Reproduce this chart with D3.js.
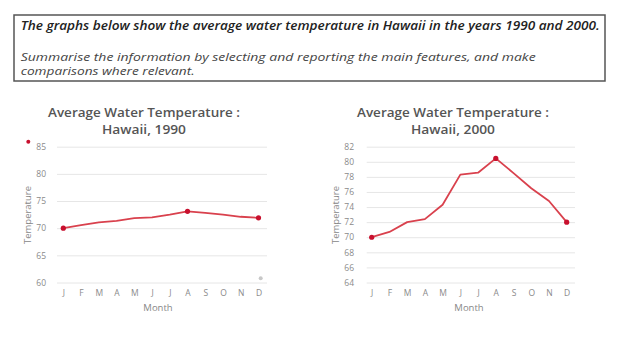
<!DOCTYPE html>
<html><head><meta charset="utf-8">
<script src="https://cdn.jsdelivr.net/npm/d3@7"></script>
<style>body{margin:0;background:#fff;} svg{display:block;font-family:"Open Sans",Lato,sans-serif;}</style>
</head><body>
<svg id="c" width="640" height="359"></svg>
<script>
const months = ["J","F","M","A","M","J","J","A","S","O","N","D"];
const temps1990 = [70, 70.55, 71.05, 71.35, 71.85, 72.0, 72.5, 73.1, 72.8, 72.5, 72.1, 71.9];
const temps2000 = [70, 70.7, 72.0, 72.4, 74.3, 78.3, 78.55, 80.45, 78.5, 76.5, 74.8, 72.0];
const ticks1990 = [60, 65, 70, 75, 80, 85];
const ticks2000 = [64, 66, 68, 70, 72, 74, 76, 78, 80, 82];
const markerIdx = [0, 7, 11];
const header = [
  "The graphs below show the average water temperature in Hawaii in the years 1990 and 2000.",
  "Summarise the information by selecting and reporting the main features, and make",
  "comparisons where relevant."
];
const titles = [["Average Water Temperature :", "Hawaii, 1990"], ["Average Water Temperature :", "Hawaii, 2000"]];

const svg = d3.select("#c");
// header box
svg.append("rect").attr("x",14).attr("y",15).attr("width",591).attr("height",66)
  .attr("fill","#fff").attr("stroke","#555").attr("stroke-width",1.5);
const hdr = [{y:29.5, w:579, fs:12.5, bold:true},{y:61, w:515, fs:11.5},{y:75, w:174, fs:11.5}];
header.forEach((t,i)=>{
  svg.append("text").attr("x",20.7).attr("y",hdr[i].y).text(t)
    .attr("font-size",hdr[i].fs).attr("font-style","italic")
    .attr("font-weight",hdr[i].bold?600:400).attr("fill", hdr[i].bold?"#222":"#444")
    .attr("textLength",hdr[i].w).attr("lengthAdjust","spacingAndGlyphs");
});

const LINE = "#d9414d", MARK = "#c8102e";
function chart(cfg){
  const y = d3.scaleLinear().domain(cfg.domain).range([282.5,146.7]);
  const x = d3.scalePoint().domain(d3.range(12)).range([cfg.x0, cfg.x1]);
  const g = svg.append("g");
  // gridlines
  g.append("g").attr("transform",`translate(${cfg.g0},0)`)
    .call(d3.axisLeft(y).tickValues(cfg.ticks).tickSize(-(cfg.g1-cfg.g0)).tickFormat(""))
    .call(s=>s.select(".domain").remove())
    .call(s=>s.selectAll("line").attr("stroke","#e6e6e6").attr("stroke-width",1));
  // y tick labels
  g.append("g").attr("transform",`translate(${cfg.labX},0)`)
    .call(d3.axisLeft(y).tickValues(cfg.ticks).tickSize(0).tickPadding(0))
    .call(s=>s.select(".domain").remove())
    .call(s=>s.selectAll("text").attr("fill","#8a8a8a").attr("font-size",8.5).attr("font-family","Open Sans, sans-serif"));
  // x labels
  g.append("g").attr("transform","translate(0,290)")
    .call(d3.axisBottom(x).tickSize(0).tickPadding(0).tickFormat(i=>months[i]))
    .call(s=>s.select(".domain").remove())
    .call(s=>s.selectAll("text").attr("fill","#8a8a8a").attr("font-size",8.5).attr("font-family","Open Sans, sans-serif"));
  // axis titles
  g.append("text").attr("x",cfg.monthX).attr("y",310.5).attr("text-anchor","middle")
    .attr("font-size",9.5).attr("fill","#888").text("Month");
  g.append("text").attr("transform",`translate(${cfg.tempX},215) rotate(-90)`).attr("text-anchor","middle")
    .attr("dy","0.35em").attr("font-size",9.5).attr("fill","#888").text("Temperature");
  // titles
  cfg.title.forEach((t,i)=>{
    g.append("text").attr("x",cfg.titleX).attr("y",i?133.5:117).attr("text-anchor","middle")
      .attr("font-size",12).attr("font-weight",600).attr("fill","#555").text(t)
      .attr("textLength", i? 84:192).attr("lengthAdjust","spacingAndGlyphs");
  });
  // line
  g.append("path").datum(cfg.data)
    .attr("d",d3.line().x((d,i)=>x(i)).y(d=>y(d)))
    .attr("fill","none").attr("stroke",LINE).attr("stroke-width",1.8).attr("stroke-linejoin","round");
  g.selectAll("circle.m").data(markerIdx).join("circle").attr("class","m")
    .attr("cx",i=>x(i)).attr("cy",i=>y(cfg.data[i])).attr("r",2.6).attr("fill",MARK);
  return g;
}
const g1 = chart({domain:[60,85], ticks:ticks1990, x0:63.3, x1:258.5, g0:57, g1:267, labX:46,
  data:temps1990, monthX:158, tempX:28, titleX:144, title:titles[0]});
g1.append("circle").attr("cx",28.3).attr("cy",141.7).attr("r",2).attr("fill",MARK);
g1.append("circle").attr("cx",260.7).attr("cy",278.3).attr("r",2).attr("fill","#c8c8c8");
chart({domain:[64,82], ticks:ticks2000, x0:371.7, x1:566.7, g0:366.7, g1:575, labX:354,
  data:temps2000, monthX:469, tempX:336, titleX:453, title:titles[1]});
</script>
</body></html>
